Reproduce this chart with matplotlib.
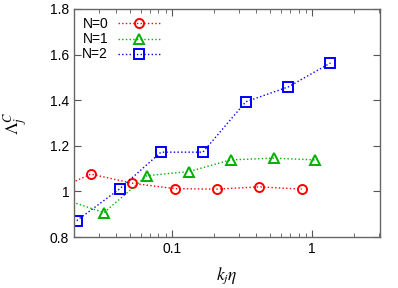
import matplotlib
matplotlib.use("Agg")
import matplotlib.pyplot as plt
from matplotlib.ticker import FixedLocator, LogLocator, NullFormatter

plt.rcParams['font.family'] = ['Liberation Sans', 'DejaVu Sans']
plt.rcParams['mathtext.fontset'] = 'stix'

labels = ["N=0", "N=1", "N=2"]
x0 = [0.0132, 0.0264, 0.0518, 0.105, 0.21, 0.418, 0.843]
y0 = [0.993, 1.076, 1.036, 1.012, 1.010, 1.020, 1.010]
x1 = [0.0165, 0.0327, 0.0663, 0.132, 0.262, 0.53, 1.05]
y1 = [0.968, 0.907, 1.069, 1.087, 1.138, 1.146, 1.138]
x2 = [0.0209, 0.0423, 0.0834, 0.166, 0.336, 0.674, 1.35]
y2 = [0.872, 1.011, 1.172, 1.172, 1.393, 1.458, 1.563]
yticks = [0.8, 1.0, 1.2, 1.4, 1.6, 1.8]
ytick_labels = ["0.8", "1", "1.2", "1.4", "1.6", "1.8"]
xticks = [0.1, 1]
xtick_labels = ["0.1", "1"]

fig = plt.figure(figsize=(3.98, 2.88), dpi=100)
ax = fig.add_axes([0.186, 0.177, 0.769, 0.792])

series = [(x0, y0, 'red', 'o'), (x1, y1, '#00b000', '^'), (x2, y2, 'blue', 's')]
for (xs, ys, c, m), lab in zip(series, labels):
    ax.plot(xs, ys, linestyle=':', color=c, linewidth=1.0, marker=m,
            markersize=6.5, markerfacecolor='none',
            markeredgecolor=c, markeredgewidth=1.4, label=lab)

ax.set_xscale('log')
ax.set_xlim(0.02, 3.05)
ax.set_ylim(0.8, 1.8)
ax.xaxis.set_major_locator(FixedLocator(xticks))
ax.set_xticklabels(xtick_labels)
ax.xaxis.set_minor_locator(LogLocator(base=10, subs=range(2, 10)))
ax.xaxis.set_minor_formatter(NullFormatter())
ax.set_yticks(yticks)
ax.set_yticklabels(ytick_labels)
ax.tick_params(which='both', direction='in', top=True, right=True, labelsize=10,
               color='#555555')
ax.tick_params(which='major', length=5)
ax.tick_params(which='minor', length=3)
for s in ax.spines.values():
    s.set_color('#666666')
    s.set_linewidth(1.0)

ax.set_xlabel(r'$k_j\eta$', fontsize=12.5, labelpad=7)
ax.set_ylabel(r'$\Lambda_j^C$', fontsize=13, labelpad=14)

leg = ax.legend(loc='upper left', frameon=False, markerfirst=False, fontsize=10,
                handlelength=3.0, handletextpad=0.7, labelspacing=0.08,
                borderaxespad=0.2, bbox_to_anchor=(0.0, 1.0))

fig.savefig('out.png', dpi=100)
